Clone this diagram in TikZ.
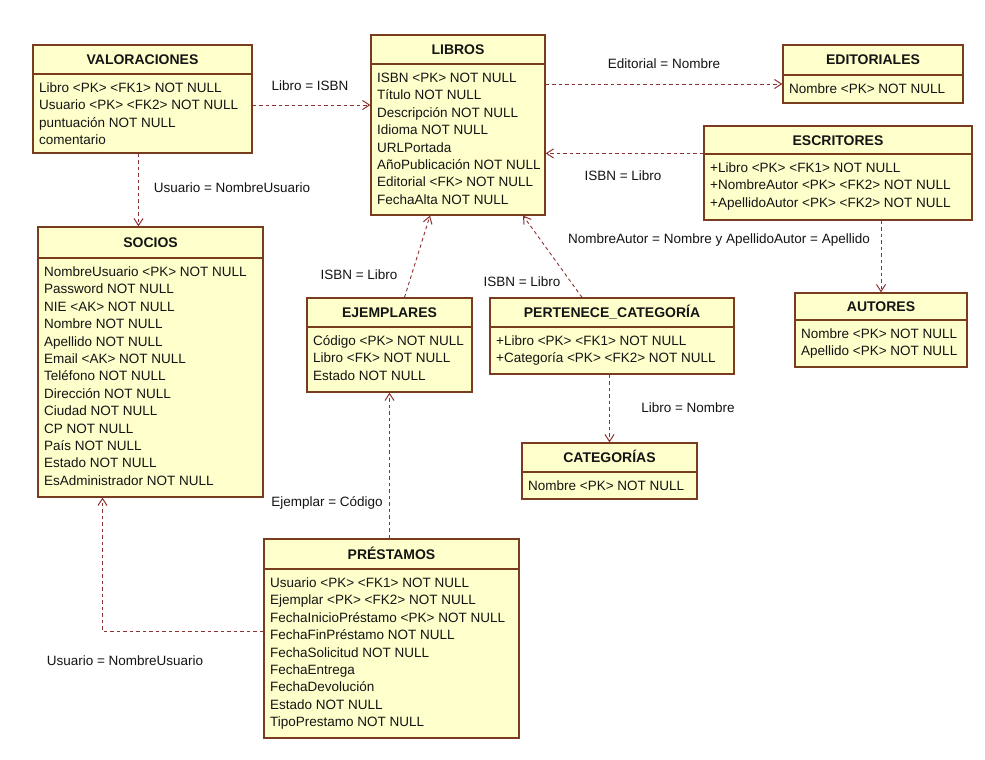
\documentclass[tikz,border=0pt]{standalone}
\usepackage{fontspec}
\setmainfont{Liberation Sans}
\usetikzlibrary{arrows.meta,fit}

\definecolor{boxfill}{RGB}{255,255,204}
\definecolor{boxline}{RGB}{122,60,30}
\definecolor{relline}{RGB}{140,50,50}
\definecolor{txt}{RGB}{20,20,20}

\tikzset{
  tbox/.style={draw=boxline, fill=boxfill, line width=1.2pt, inner sep=0pt, rectangle},
  tsep/.style={draw=boxline, line width=1.1pt},
  ttitle/.style={font=\fontsize{14}{16}\selectfont\bfseries, text=txt, anchor=base, inner sep=0pt},
  trow/.style={font=\fontsize{13.5}{16}\selectfont, text=txt, anchor=base west, inner sep=0pt},
  rel/.style={draw=relline, line width=0.9pt, dash pattern=on 3.5pt off 3pt,
              -{Straight Barb[length=7pt,width=9pt,line width=1pt]}},
  rlabel/.style={font=\fontsize{13.5}{16}\selectfont, text=txt, anchor=base, inner sep=0pt},
}

% #1 name, #2 left, #3 top, #4 right, #5 bottom, #6 header rule, #7 title, #8 rows
\newcommand{\ertable}[8]{%
  \node[tbox, fit={(#2,#3) (#4,#5)}] (#1) {};
  \draw[tsep] (#2,#6) -- (#4,#6);
  \node[ttitle] (#1-title) at ({(#2+#4)/2},{(#3+#6)/2+5}) {#7};
  \foreach \row [count=\i] in {#8} {
    \node[trow] (#1-row\i) at (#2+6,{#6+18.5+(\i-1)*17.4}) {\row};
  }
}

\begin{document}
\begin{tikzpicture}[x=1pt,y=-1pt]
\useasboundingbox[fill=white] (0,0) rectangle (985,760);

% tables
\ertable{valor}{33}{45}{252}{153}{74}{VALORACIONES}{%
  Libro <PK> <FK1> NOT NULL, Usuario <PK> <FK2> NOT NULL, puntuación NOT NULL, comentario}
\ertable{libros}{371}{35}{545}{215}{64}{LIBROS}{%
  ISBN <PK> NOT NULL, Título NOT NULL, Descripción NOT NULL, Idioma NOT NULL, URLPortada,
  AñoPublicación NOT NULL, Editorial <FK> NOT NULL, FechaAlta NOT NULL}
\ertable{editoriales}{783}{45}{963}{103}{75}{EDITORIALES}{Nombre <PK> NOT NULL}
\ertable{escritores}{704}{126}{972}{220}{154}{ESCRITORES}{%
  +Libro <PK> <FK1> NOT NULL, +NombreAutor <PK> <FK2> NOT NULL, +ApellidoAutor <PK> <FK2> NOT NULL}
\ertable{socios}{38}{227}{263}{497}{258}{SOCIOS}{%
  NombreUsuario <PK> NOT NULL, Password NOT NULL, NIE <AK> NOT NULL, Nombre NOT NULL,
  Apellido NOT NULL, Email <AK> NOT NULL, Teléfono NOT NULL, Dirección NOT NULL,
  Ciudad NOT NULL, CP NOT NULL, País NOT NULL, Estado NOT NULL, EsAdministrador NOT NULL}
\ertable{ejemplares}{307}{298}{472}{392}{327}{EJEMPLARES}{%
  Código <PK> NOT NULL, Libro <FK> NOT NULL, Estado NOT NULL}
\ertable{pertenece}{490}{298}{734}{374}{327}{PERTENECE\_CATEGORÍA}{%
  +Libro <PK> <FK1> NOT NULL, +Categoría <PK> <FK2> NOT NULL}
\ertable{categorias}{522}{443}{697}{499}{472}{CATEGORÍAS}{Nombre <PK> NOT NULL}
\ertable{autores}{795}{293}{967}{367}{320}{AUTORES}{%
  Nombre <PK> NOT NULL, Apellido <PK> NOT NULL}
\ertable{prestamos}{264}{539}{519}{738}{569}{PRÉSTAMOS}{%
  Usuario <PK> <FK1> NOT NULL, Ejemplar <PK> <FK2> NOT NULL, FechaInicioPréstamo <PK> NOT NULL,
  FechaFinPréstamo NOT NULL, FechaSolicitud NOT NULL, FechaEntrega, FechaDevolución,
  Estado NOT NULL, TipoPrestamo NOT NULL}

% relationships
\draw[rel] ([yshift=-6pt]valor.east) -- ([yshift=-6pt]valor.east -| libros.west);
\draw[rel] ([xshift=-4pt]valor.south) -- ([xshift=-4pt]valor.south |- socios.north);
\draw[rel] ([yshift=-10pt]editoriales.west -| libros.east) -- ([yshift=-10pt]editoriales.west);
\draw[rel] ([yshift=-28pt]escritores.north west) -- ([yshift=-28pt]escritores.north west -| libros.east);
\draw[rel] (autores.north |- escritores.south) -- (autores.north);
\draw[rel] ([xshift=15pt]ejemplares.north) -- ([xshift=-28pt]libros.south);
\draw[rel] ([xshift=-30pt]pertenece.north) -- ([xshift=65pt]libros.south);
\draw[rel] (categorias.north |- pertenece.south) -- (categorias.north);
\draw[rel] (prestamos.north -| ejemplares.south) -- (ejemplares.south);
\draw[rel] ([yshift=7pt]prestamos.west) -| ([xshift=-48pt]socios.south);

% relationship labels
\node[rlabel] (l1) at (310,90) {Libro = ISBN};
\node[rlabel] (l2) at (232,192) {Usuario = NombreUsuario};
\node[rlabel] (l3) at (664,69) {Editorial = Nombre};
\node[rlabel] (l4) at (623,180) {ISBN = Libro};
\node[rlabel] (l5) at (719,243) {NombreAutor = Nombre y ApellidoAutor = Apellido};
\node[rlabel] (l6) at (359,279) {ISBN = Libro};
\node[rlabel] (l7) at (522,286) {ISBN = Libro};
\node[rlabel] (l8) at (688,412) {Libro = Nombre};
\node[rlabel] (l9) at (327,506) {Ejemplar = Código};
\node[rlabel] (l10) at (125,665) {Usuario = NombreUsuario};
\end{tikzpicture}
\end{document}
